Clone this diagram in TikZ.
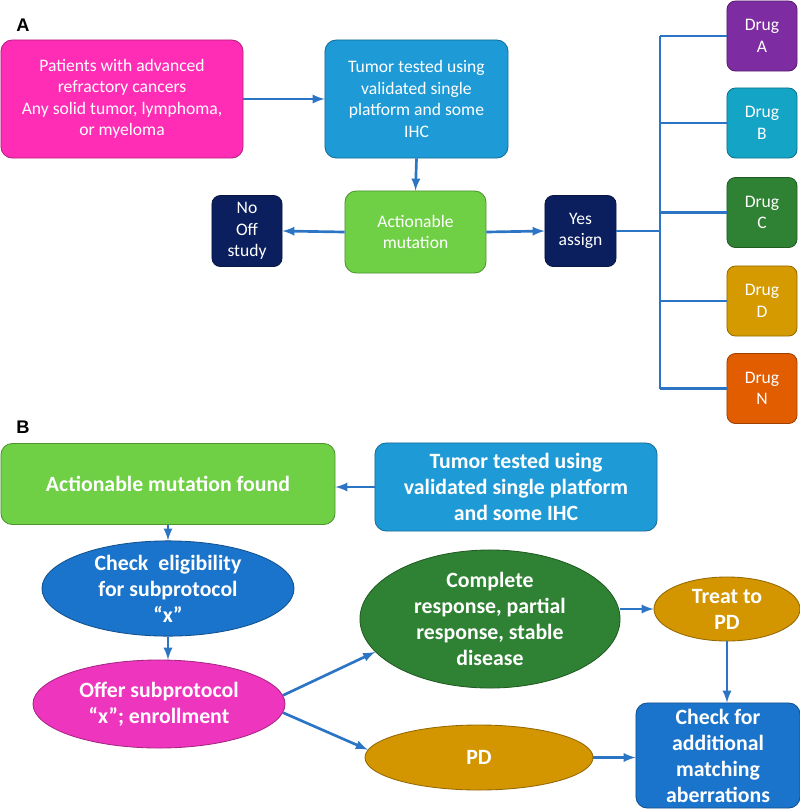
\documentclass[tikz,border=0pt]{standalone}
\usepackage{fontspec}
\setmainfont{Carlito}
\newfontfamily\labelfont{Liberation Sans}
\usetikzlibrary{shapes.geometric}

\definecolor{pinkA}{HTML}{FF2DB5}
\definecolor{blueA}{HTML}{1E9BD7}
\definecolor{greenA}{HTML}{6FD046}
\definecolor{navy}{HTML}{0B1F5E}
\definecolor{drugA}{HTML}{7E2CA1}
\definecolor{drugB}{HTML}{14A4C6}
\definecolor{drugC}{HTML}{2F8233}
\definecolor{drugD}{HTML}{D49A00}
\definecolor{drugN}{HTML}{E25C00}
\definecolor{blueB}{HTML}{1B74CB}
\definecolor{magB}{HTML}{EE35BE}
\definecolor{ochre}{HTML}{D39500}
\definecolor{wire}{HTML}{2C74C4}

\tikzset{
  box/.style={draw=#1!70!black, fill=#1, line width=0.6pt, rounded corners=8pt,
    text=white, align=center, inner sep=2pt},
  oval/.style={ellipse, draw=#1!70!black, fill=#1, line width=0.6pt,
    text=white, align=center, inner sep=0pt},
  smalltxt/.style={font=\fontsize{12.5}{15.3}\selectfont},
  bigtxt/.style={font=\bfseries\fontsize{15.5}{18.5}\selectfont},
  link/.style={wire, line width=1.9pt, -latex},
  bus/.style={wire, line width=1.9pt},
}

\begin{document}
\begin{tikzpicture}[x=0.025cm, y=-0.025cm]
\useasboundingbox (0,0) rectangle (800,811);

% -------- Panel A --------
\node (labA) at (23,25) {\labelfont\bfseries\fontsize{13}{15}\selectfont A};

\node [box=pinkA, smalltxt, minimum width=6.05cm, minimum height=2.95cm] (pat) at (122,99)
  {Patients with advanced\\refractory cancers\\Any solid tumor, lymphoma,\\or myeloma};
\node [box=blueA, smalltxt, minimum width=4.575cm, minimum height=2.95cm] (tumA) at (416.5,99)
  {Tumor tested using\\validated single\\platform and some\\IHC};
\node [box=greenA, smalltxt, minimum width=3.525cm, minimum height=2.05cm] (act) at (415.5,232)
  {Actionable\\mutation};
\node [box=navy, smalltxt, minimum width=1.75cm, minimum height=1.775cm, rounded corners=6pt] (no) at (247,231)
  {No\\Off\\study};
\node [box=navy, smalltxt, minimum width=1.775cm, minimum height=1.775cm, rounded corners=6pt] (yes) at (580.5,231)
  {Yes\\assign};

\foreach \name/\ypos/\col in {A/36/drugA, B/123/drugB, C/212.5/drugC, D/301/drugD, N/388.5/drugN}
  \node [box=\col, smalltxt, minimum width=1.75cm, minimum height=1.75cm, rounded corners=6pt]
    (drug\name) at (762,\ypos) {Drug\\\name};

\draw [link] (pat.east) -- (tumA.west);
\draw [link] (tumA.south) -- (act.north);
\draw [link] (act.west) -- (no.east);
\draw [link] (act.east) -- (yes.west);

\coordinate (hub) at (660,231);
\draw [bus] (yes.east) -- (hub);
\draw [bus] (hub |- drugA.west) -- (hub |- drugN.west);
\foreach \name in {A,B,C,D,N}
  \draw [bus] (hub |- drug\name.west) -- (drug\name.west);

% -------- Panel B --------
\node (labB) at (23,427) {\labelfont\bfseries\fontsize{13}{15}\selectfont B};

\node [box=greenA, bigtxt, minimum width=8.35cm, minimum height=2.025cm] (found) at (168,484)
  {Actionable mutation found};
\node [box=blueA, bigtxt, minimum width=7.05cm, minimum height=2.2cm] (tumB) at (516,487)
  {Tumor tested using\\validated single platform\\and some IHC};
\node [oval=blueB, bigtxt, minimum width=6.3cm, minimum height=2.025cm] (elig) at (168,588.5)
  {Check~ eligibility\\for subprotocol\\“x”};
\node [oval=magB, bigtxt, minimum width=6.3cm, minimum height=2.2cm] (offer) at (159,704)
  {Offer subprotocol\\“x”; enrollment};
\node [oval=drugC, bigtxt, minimum width=6.5cm, minimum height=3.45cm] (resp) at (490,619)
  {Complete\\response, partial\\response, stable\\disease};
\node [oval=ochre, bigtxt, minimum width=3.65cm, minimum height=1.6cm] (treat) at (727,609)
  {Treat to\\PD};
\node [oval=ochre, bigtxt, minimum width=5.7cm, minimum height=1.625cm] (pd) at (479,757.5)
  {PD};
\node [box=blueB, bigtxt, minimum width=4.1cm, minimum height=2.625cm] (more) at (718,755.5)
  {Check for\\additional\\matching\\aberrations};

\draw [link] (tumB.west) -- (tumB.west -| found.east);
\draw [link] (found.south) -- (elig.north);
\draw [link] (elig.south) -- (elig.south |- offer.north);
\draw [link] (offer.4) -- (resp.196);
\draw [link] (offer.-4) -- (pd.176);
\draw [link] (treat.west -| resp.east) -- (treat.west);
\draw [link] (treat.south) -- (treat.south |- more.north);
\draw [link] (pd.east) -- (pd.east -| more.west);

\end{tikzpicture}
\end{document}
